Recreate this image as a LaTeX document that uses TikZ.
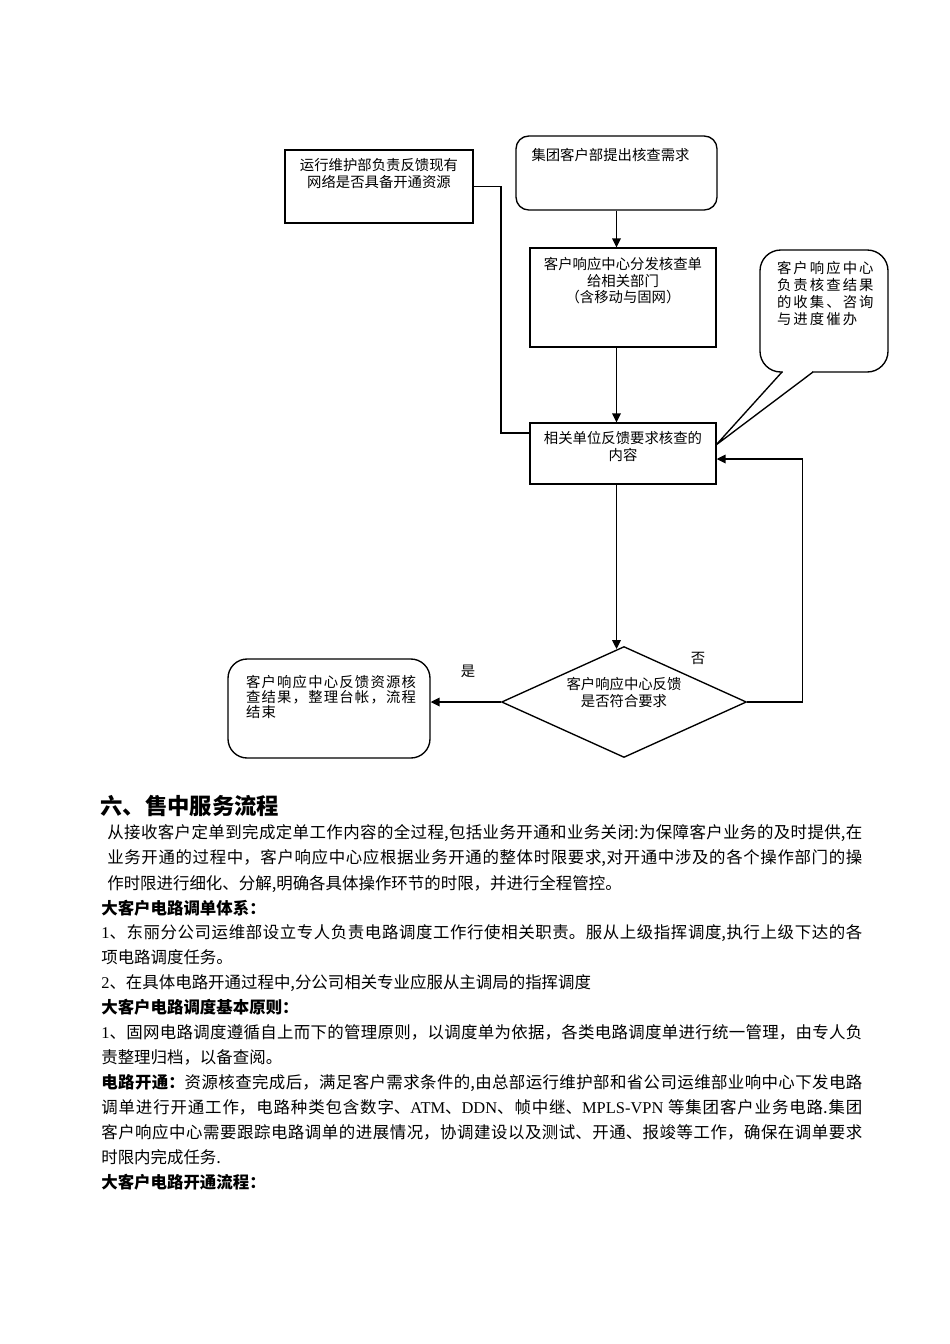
\documentclass[tikz,border=0pt]{standalone}
\usepackage{fontspec}
\setmainfont{Noto Sans CJK SC}
\newfontfamily\lat{Liberation Serif}
\usetikzlibrary{arrows.meta,shapes.geometric}
\newdimen\pxd \pxd=0.6263pt
\XeTeXlinebreaklocale "zh"
\XeTeXlinebreakskip=0pt plus 1pt
\newcommand\inbox[4]{\parbox[c][#2\pxd][t]{#1\pxd}{\vspace*{#3\pxd}#4}}
\newcommand\jline[2]{\parbox[t]{#1\pxd}{\parfillskip=0pt\relax #2}}
\ExplSyntaxOn
\NewDocumentCommand\spaced{O{1.3pt}m}{\tl_map_inline:nn{#2}{##1\kern#1}}
\ExplSyntaxOff
\begin{document}
\begin{tikzpicture}[x=0.6263pt,y=-0.6263pt,
  line/.style={line width=0.85pt},
  arr/.style={line,-{Triangle[length=5.6pt,width=5.4pt]}},
  box/.style={draw,line,inner sep=0pt,font=\fontsize{9}{10.3}\selectfont},
  rbox/.style={box,rounded corners=#1},rbox/.default=8pt,
  lbl/.style={inner sep=0pt,font=\fontsize{9}{10}\selectfont},
  body/.style={anchor=west,inner sep=0pt,text height=8.2pt,text depth=1.2pt,font=\fontsize{10.3}{12}\selectfont},
  bodybold/.style={body,font=\fontsize{10.3}{12}\selectfont\bfseries},
  head/.style={body,text height=11pt,text depth=1.6pt,font=\fontsize{14}{16}\selectfont\bfseries}]
\path[fill=white,use as bounding box] (0,0) rectangle (950,1344);
\node[box] (ops) at (379,186.5) {\inbox{188}{73}{8.5}{\centering 运行维护部负责反馈现有\\网络是否具备开通资源}};
\node[rbox=8pt] (req) at (616.5,173) {\inbox{201}{74}{12.5}{\leftskip=15.5\pxd 集团客户部提出核查需求}};
\node[box] (dist) at (623,297.5) {\inbox{186}{99}{9.5}{\centering 客户响应中心分发核查单\\给相关部门\\（含移动与固网）}};
\node[rbox=13pt,font=\fontsize{9}{10.5}\selectfont] (cb) at (824,311) {\inbox{128}{122}{11.5}{\raggedright\leftskip=17\pxd \spaced{客户响应中心}\\\spaced{负责核查结果}\\\spaced{的收集、咨询}\\\spaced{与进度催办}}};
\node[box] (fb) at (623,453.5) {\inbox{186}{61}{8.5}{\centering 相关单位反馈要求核查的\\内容}};
\node[box,diamond,shape aspect=2.2,minimum width=153.4pt,minimum height=69.5pt] (chk) at (624,702) {\inbox{125}{50}{0.5}{\centering 客户响应中心反馈\\是否符合要求}};
\node[rbox=12pt,font=\fontsize{9}{9.4}\selectfont] (done) at (329,708.5) {\inbox{202}{99}{16}{\raggedright\leftskip=18\pxd \spaced[0.75pt]{客户响应中心反馈资源核}\\\spaced[0.75pt]{查结果，整理台帐，流程}\\\spaced[0.75pt]{结束}}};
\node[lbl] (yes) at (468,671) {是};
\node[lbl] (no) at (698,658) {否};
\coordinate (cbtip) at (716,445);
\fill[white] (783,369.5) rectangle (812,374);
\draw[line] (782,372) -- (cbtip) -- (813,372);
\coordinate (opsj) at (501,433);
\coordinate (chkj) at (802.5,459);
\draw[arr] (req.south) -- (req.south |- dist.north);
\draw[arr] (dist.south -| req.south) -- (fb.north -| req.south);
\draw[arr,shorten >=-2pt] (fb.south -| req.south) -- (chk.north -| req.south);
\draw[line] (ops.east) -| (opsj) -- (opsj -| fb.west);
\draw[arr] (chk.east) -| (chkj) -- (chkj -| fb.east);
\draw[arr] (chk.west) -- (chk.west -| done.east);
\node[head] (sec) at (100,807) {六、售中服务流程};
\node[body] (p1) at (107,833) {\jline{755}{从接收客户定单到完成定单工作内容的全过程,包括业务开通和业务关闭:为保障客户业务的及时提供,在}};
\node[body] (p2) at (107,858) {\jline{755}{业务开通的过程中，客户响应中心应根据业务开通的整体时限要求,对开通中涉及的各个操作部门的操}};
\node[body] (p3) at (107,884) {作时限进行细化、分解,明确各具体操作环节的时限，并进行全程管控。};
\node[bodybold] (t1) at (101,909) {大客户电路调单体系：};
\node[body] (a1) at (101,933) {\jline{761}{{\lat 1}、东丽分公司运维部设立专人负责电路调度工作行使相关职责。服从上级指挥调度,执行上级下达的各}};
\node[body] (a2) at (101,958) {项电路调度任务。};
\node[body] (a3) at (101,983) {{\lat 2}、在具体电路开通过程中,分公司相关专业应服从主调局的指挥调度};
\node[bodybold] (t2) at (101,1008) {大客户电路调度基本原则：};
\node[body] (b1) at (101,1033) {\jline{761}{{\lat 1}、固网电路调度遵循自上而下的管理原则，以调度单为依据，各类电路调度单进行统一管理，由专人负}};
\node[body] (b2) at (101,1058) {责整理归档，以备查阅。};
\node[body] (c1) at (101,1083) {\jline{761}{\textbf{电路开通：}资源核查完成后，满足客户需求条件的,由总部运行维护部和省公司运维部业响中心下发电路}};
\node[body] (c2) at (101,1108) {\jline{761}{调单进行开通工作，电路种类包含数字、{\lat ATM}、{\lat DDN}、帧中继、{\lat MPLS-VPN} 等集团客户业务电路.集团}};
\node[body] (c3) at (101,1133) {\jline{761}{客户响应中心需要跟踪电路调单的进展情况，协调建设以及测试、开通、报竣等工作，确保在调单要求}};
\node[body] (c4) at (101,1158) {时限内完成任务.};
\node[bodybold] (t3) at (101,1183) {大客户电路开通流程：};
\end{tikzpicture}
\end{document}
